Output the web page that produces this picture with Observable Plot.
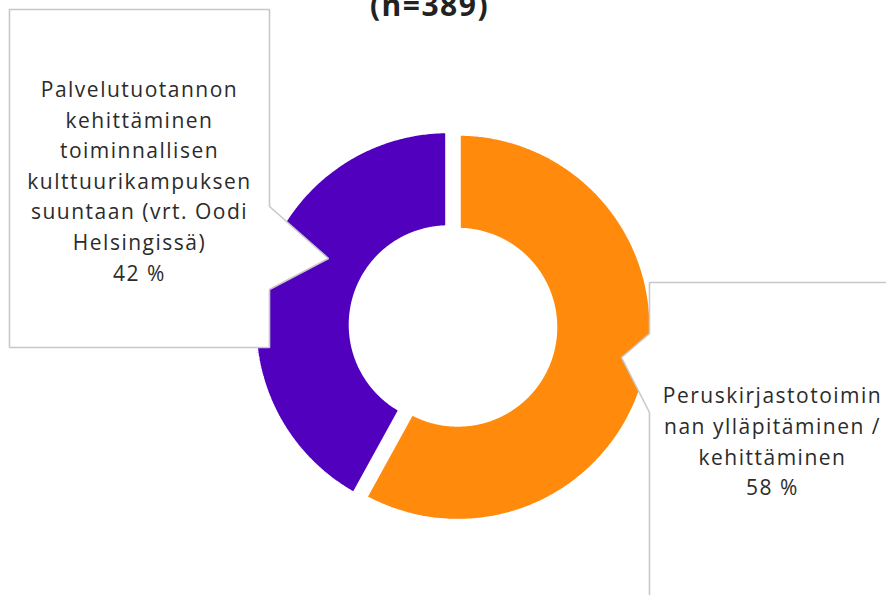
<!DOCTYPE html>
<html>
<head>
<meta charset="utf-8">
<script src="https://cdn.jsdelivr.net/npm/d3@7"></script>
<script src="https://cdn.jsdelivr.net/npm/@observablehq/plot@0.6"></script>
<style>
  html, body { margin: 0; padding: 0; background: #fff; overflow: hidden; }
  #chart svg g[aria-label="text"] text { letter-spacing: 1.5px; }
</style>
</head>
<body>
<div id="chart"></div>
<script>
// ---- data ----
const categories = [
  "Peruskirjastotoiminnan ylläpitäminen / kehittäminen",
  "Palvelutuotannon kehittäminen toiminnallisen kulttuurikampuksen suuntaan (vrt. Oodi Helsingissä)"
];
const labelLines = [
  "Peruskirjastotoimin\nnan ylläpitäminen /\nkehittäminen",
  "Palvelutuotannon\nkehittäminen\ntoiminnallisen\nkulttuurikampuksen\nsuuntaan (vrt. Oodi\nHelsingissä)"
];
const shares = [58, 42];
const sliceColors = ["#ff8a0b", "#5100bd"];
const titleText = "(n=389)";

// ---- layout (pixels) ----
const W = 886, H = 595;
const cx = 452.5, cy = 325.5;
const R = 194.5, r = 96.5, explode = 5, gapStroke = 5.9;

// callout boxes, relative layout
const callouts = [
  { box: [[649,282],[900,282],[900,610],[649,610],[649,412],[621,357],[649,333]], tx: 772, ty: 439 },
  { box: [[9,9],[269,9],[269,206],[328,258],[269,289],[269,347],[9,347]], tx: 139, ty: 178.5 }
];

// ---- build slices ----
const pie = d3.pie().sort(null).value(d => d)(shares);
const slicePts = [];
pie.forEach((p, i) => {
  const mid = (p.startAngle + p.endAngle) / 2;
  const ox = cx + explode * Math.sin(mid), oy = cy - explode * Math.cos(mid);
  const n = Math.max(8, Math.ceil((p.endAngle - p.startAngle) / (Math.PI / 360)));
  const pts = [];
  for (let k = 0; k <= n; k++) {
    const a = p.startAngle + (p.endAngle - p.startAngle) * k / n;
    pts.push([ox + R * Math.sin(a), oy - R * Math.cos(a)]);
  }
  for (let k = n; k >= 0; k--) {
    const a = p.startAngle + (p.endAngle - p.startAngle) * k / n;
    pts.push([ox + r * Math.sin(a), oy - r * Math.cos(a)]);
  }
  pts.push(pts[0]);
  pts.forEach(([x, y]) => slicePts.push({ name: categories[i], x, y }));
});

const boxPts = [];
callouts.forEach((c, i) => {
  [...c.box, c.box[0]].forEach(([x, y]) => boxPts.push({ name: categories[i], x, y }));
});
const labels = callouts.map((c, i) => ({ x: c.tx, y: c.ty, text: `${labelLines[i]}\n${shares[i]} %` }));

const chart = Plot.plot({
  width: W, height: H,
  margin: 0,
  x: { type: "linear", domain: [0, W], range: [0, W], axis: null },
  y: { type: "linear", domain: [0, H], range: [0, H], axis: null },
  color: { domain: categories, range: sliceColors },
  style: { background: "#fff", overflow: "hidden" },
  marks: [
    Plot.line(slicePts, { x: "x", y: "y", z: "name", fill: "name", stroke: "#fff", strokeWidth: gapStroke, strokeLinejoin: "miter" }),
    Plot.line(boxPts, { x: "x", y: "y", z: "name", fill: "#fff", stroke: "#c8c8c8", strokeWidth: 1.6, strokeLinejoin: "miter" }),
    Plot.text(labels, { x: "x", y: "y", text: "text", fontSize: 21, lineHeight: 1.46, fill: "#2b2b2b", fontFamily: "Open Sans", textAnchor: "middle" }),
    Plot.text([titleText], { x: () => 429, y: () => 6, text: d => d, fontSize: 30, fontWeight: "bold", fill: "#222", fontFamily: "Open Sans", textAnchor: "middle" })
  ]
});
document.getElementById("chart").appendChild(chart);
</script>
</body>
</html>
